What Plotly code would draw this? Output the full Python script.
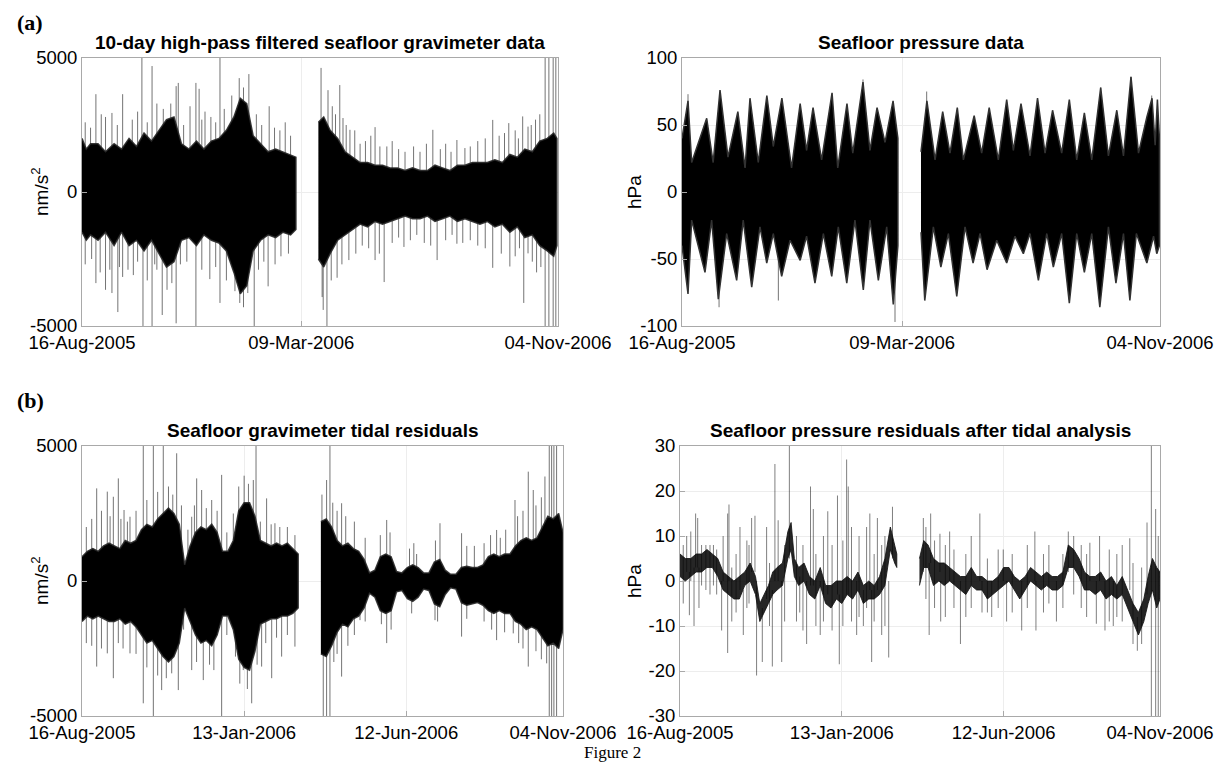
import pandas as pd
import plotly.graph_objects as go

# ---------------------------------------------------------------
# Time base: all sample positions are given in days since 16-Aug-2005
# ---------------------------------------------------------------
START = pd.Timestamp("2005-08-16")

tick_dates_a = ["2005-08-16", "2006-03-09", "2006-11-04"]
tick_text_a = ["16-Aug-2005", "09-Mar-2006", "04-Nov-2006"]
tick_dates_b = ["2005-08-16", "2006-01-13", "2006-06-12", "2006-11-04"]
tick_text_b = ["16-Aug-2005", "13-Jan-2006", "12-Jun-2006", "04-Nov-2006"]

# ---------------- (a) left: 10-day high-pass gravimeter (nm/s^2) ----------------
grav_hp_days = [0, 4, 8, 15, 22, 30, 37, 44, 51, 58, 65, 72, 79, 86, 93, 100, 107, 114, 121, 128,
                135, 142, 148, 154, 160, 167, 174, 181, 188, 195, 200,
                221, 226, 232, 239, 246, 253, 260, 267, 274, 281, 288, 295, 302, 309, 316, 323, 330,
                337, 344, 351, 358, 365, 372, 379, 386, 393, 400, 407, 414, 421, 428, 435, 441, 444]
grav_hp_hi = [2000, 1600, 1800, 1800, 1500, 1800, 1600, 2000, 1700, 2200, 1900, 2300, 2700, 2800, 1800,
              1600, 1900, 1600, 1900, 2000, 2300, 2800, 3500, 3300, 2100, 1800, 1500, 1600, 1500, 1400, 1300,
              2600, 2800, 2300, 2000, 1500, 1300, 1100, 1100, 1000, 1000, 900, 900, 800, 900, 800, 800, 1000,
              900, 800, 1000, 1000, 1100, 1100, 1100, 1200, 1100, 1400, 1300, 1600, 1500, 1900, 2000, 2200, 2000]
grav_hp_lo = [-1500, -1800, -1600, -1800, -1500, -2000, -1500, -2000, -1800, -2200, -1800, -2300, -2800, -2600,
              -1800, -1700, -2000, -1600, -1800, -1900, -2200, -3000, -3800, -3500, -2200, -1800, -1600, -1700,
              -1500, -1600, -1400,
              -2500, -2800, -2300, -1800, -1600, -1400, -1200, -1300, -1100, -1200, -1100, -1000, -900, -1000,
              -1000, -900, -1100, -1000, -900, -1100, -1000, -1100, -1200, -1100, -1300, -1200, -1500, -1300,
              -1700, -1600, -2000, -2200, -2400, -2000]
grav_hp_up_days = [13, 22, 28, 38, 56, 65.5, 70, 88, 90, 101, 106.5, 109.5, 115, 120.5, 129, 147, 156, 175, 190,
                   223.5, 230, 241, 244, 250.5, 260, 274, 278.5, 302, 328, 350.5, 358, 384, 399, 412, 417,
                   433, 436.5, 440.5, 443,
                   3, 8, 18, 33, 47, 52, 61, 76, 83, 95, 112, 125, 133, 140, 151, 163, 168, 180, 185, 195,
                   234, 237, 247, 255, 265, 270, 285, 290, 296, 310, 316, 322, 335, 340, 345, 363, 370, 377,
                   390, 395, 405, 408, 420, 424, 428]
grav_hp_up = [3650, 2800, 2950, 3650, 5000, 4700, 3300, 3950, 4070, 3200, 4070, 3850, 3000, 2800, 5000, 4250,
              4400, 3200, 2600,
              4630, 3800, 3990, 2760, 2320, 1800, 2420, 1700, 1500, 2320, 1940, 1640, 2690, 2570, 2820, 2440,
              5000, 5000, 5000, 5000,
              2600, 2400, 2900, 2500, 2700, 3000, 2600, 3100, 3300, 2500, 2700, 2600, 3100, 3600, 3900, 2900,
              2500, 2400, 2300, 2100,
              3200, 2900, 2500, 2300, 1900, 2100, 1700, 1900, 1600, 1700, 1500, 1800, 1600, 1800, 1500, 1700,
              1900, 2000, 2100, 2200, 2300, 2000, 2500, 2700, 2900]
grav_hp_dn_days = [13, 22, 28, 33.5, 38, 43, 57, 65.5, 70, 75, 79.5, 88, 106.5, 119.5, 129, 147.5, 155, 161, 174,
                   180.5,
                   224.5, 225.5, 229, 238.5, 249.5, 274, 282.5, 301, 332, 350.5, 384, 400, 413, 417, 433, 436.5,
                   440.5, 443,
                   3, 9, 17, 26, 35, 48, 52, 61, 68, 84, 92, 98, 112, 125, 135, 143, 151, 165, 170, 186, 193,
                   233, 243, 256, 262, 268, 278, 290, 296, 307, 313, 320, 326, 340, 346, 356, 363, 370, 377,
                   392, 405, 409, 421, 425, 429]
grav_hp_dn = [-3400, -3650, -3770, -4480, -3170, -2900, -5000, -5000, -2900, -4590, -3650, -4900, -5000, -3250,
              -4140, -4140, -3770, -5000, -3520, -2700,
              -3920, -4400, -5000, -3200, -2540, -2540, -3360, -2050, -2540, -1930, -2830, -2780, -4140, -2290,
              -5000, -5000, -5000, -5000,
              -2700, -2500, -3000, -2900, -2800, -3100, -2600, -3300, -2700, -3400, -2700, -2600, -2900, -2800,
              -3300, -3700, -4300, -2900, -2600, -2400, -2300,
              -3300, -2700, -2300, -2000, -2100, -2300, -1900, -1700, -1800, -1600, -1900, -2000, -1800, -1600,
              -1900, -1800, -2000, -2100, -2300, -2400, -2100, -2600, -3000, -2800]

# ---------------- (a) right: seafloor pressure (hPa) ----------------
pres_up_days = [0, 5.6, 9, 23, 29, 35.4, 42.8, 52, 58.7, 63.3, 71, 79, 85, 93, 102, 110, 116, 122, 130, 139.7,
                145, 153.6, 159, 168.5, 175, 181.6, 189, 196.5, 201,
                222.5, 228, 235.6, 242.7, 249.5, 256.3, 262, 272, 279, 286, 294.5, 302.3, 308.5, 315.6, 324, 331,
                338, 345, 353.5, 360.6, 367.5, 374.6, 381.5, 389.8, 397, 404.8, 411, 418, 425, 432.8, 437.6,
                440.5, 442.6, 444.5]
pres_up = [40, 68, 22, 55, 22, 76, 26, 60, 18, 70, 22, 72, 34, 70, 18, 66, 31, 63, 24, 74, 18, 66, 29, 82, 31,
           63, 37, 68, 40,
           30, 68, 24, 60, 29, 63, 24, 57, 29, 63, 24, 69, 31, 66, 27, 70, 29, 61, 29, 69, 24, 59, 24, 78, 27,
           61, 27, 86, 29, 56, 70, 35, 69, 40]
pres_lo_days = [0, 5.6, 9, 21.4, 27.6, 33.8, 41.6, 50.9, 57, 64.9, 72.6, 78.9, 85, 92.8, 100.6, 110, 116, 123.8,
                131.6, 139.4, 145.5, 153.4, 161, 168.8, 175, 182.8, 190.6, 196.7, 201,
                222.5, 226, 234, 241, 248, 255.8, 263.5, 271, 277.5, 284, 293, 302.3, 310, 317.8, 324, 331.8,
                339.6, 345.7, 353.5, 360.6, 367.5, 374.6, 381.5, 389, 397, 404, 411, 417, 423, 432.8, 439, 442,
                444.5]
pres_lo = [-40, -76, -21, -60, -21, -80, -31, -66, -21, -71, -26, -53, -31, -63, -36, -51, -33, -68, -31, -63,
           -26, -68, -21, -73, -21, -66, -26, -84, -40,
           -30, -81, -26, -56, -31, -78, -26, -53, -31, -58, -36, -53, -33, -46, -31, -66, -31, -56, -31, -83,
           -31, -60, -31, -86, -26, -68, -31, -81, -31, -53, -33, -46, -40]
pres_spk_days = [5.6, 34.5, 89.7, 168.5, 198.3, 227.8, 389.8, 418, 437.3]
pres_spk = [73, -86, -81, 84, -97, 75, 78, 86, 72]

# ---------------- (b) left: gravimeter tidal residuals (nm/s^2) ----------------
gtr_days = list(range(0, 201, 5)) + list(range(221, 442, 5)) + [445]
gtr_hi = [900, 1100, 1200, 1100, 1300, 1400, 1300, 1200, 1500, 1400, 1500, 1900, 2100, 2000, 2300, 2500, 2700,
          2500, 2100, 600, 1300, 1800, 2000, 1900, 2100, 1800, 1100, 1100, 1500, 2600, 2900, 2900, 2400, 1500,
          1400, 1300, 1400, 1300, 1400, 1200, 1000,
          2200, 2300, 2000, 1500, 1300, 1400, 1200, 1100, 800, 300, 400, 900, 1000, 900, 350, 300, 500, 600,
          500, 300, 300, 700, 800, 400, 250, 250, 500, 550, 500, 500, 600, 900, 1000, 900, 1000, 1000, 1300,
          1500, 1600, 1500, 1600, 2000, 2400, 2300, 2500, 1800]
gtr_lo = [-1500, -1300, -1400, -1300, -1400, -1500, -1500, -1400, -1600, -1500, -1700, -2000, -2300, -2200,
          -2500, -2800, -3000, -2800, -2300, -1000, -1500, -2000, -2300, -2200, -2400, -2000, -1300, -1300,
          -1800, -2900, -3200, -3300, -2600, -1600, -1500, -1400, -1400, -1300, -1300, -1200, -1000,
          -2700, -2800, -2400, -1900, -1600, -1700, -1400, -1300, -1000, -450, -600, -1100, -1200, -1100, -400,
          -350, -650, -750, -600, -300, -350, -850, -950, -500, -250, -300, -800, -900, -850, -800, -900, -1100,
          -1200, -1100, -1200, -1200, -1500, -1600, -1800, -1700, -1800, -2100, -2400, -2300, -2500, -1800]
gtr_up_days = [13.6, 23.4, 29, 33.6, 38.9, 44.4, 56.7, 66, 75.2, 87.6, 101.5, 106.1, 110.7, 129.2, 158.5, 161,
               170.8, 178.5, 197,
               226.3, 229.4, 240.2, 281.9, 309.6, 331.2, 351.2, 383.6, 400.6, 412.9, 417.5, 428.3, 432.3, 434.5,
               436.6, 439.1,
               4, 9, 18, 26, 36, 42, 50, 60, 70, 80, 84, 92, 98, 104, 115, 120, 125, 134, 140, 145, 150, 154,
               165, 175, 183, 190,
               222, 232, 236, 244, 252, 262, 276, 285, 303, 307, 327, 356, 363, 372, 378, 387, 392, 403, 408,
               420, 425]
gtr_up = [3430, 3310, 3120, 3800, 2630, 2380, 5000, 5000, 5000, 4730, 2380, 3800, 3370, 3930, 3740, 5000, 3060,
          2140, 1700,
          3740, 5000, 2880, 2260, 1000, 2140, 1770, 1890, 3000, 4050, 3370, 3870, 5000, 5000, 5000, 5000,
          2000, 2300, 2600, 2400, 2300, 2200, 2600, 3000, 3300, 3500, 3200, 2800, 1900, 2800, 2700, 3000, 2600,
          1800, 2500, 3500, 3900, 3600, 2200, 2100, 2000, 2000,
          3200, 2900, 2600, 2400, 2200, 1600, 1700, 1800, 1200, 1400, 1500, 1300, 1300, 1400, 1700, 1600, 1900,
          2400, 2600, 2800, 3100]
gtr_dn_days = [13.6, 23.4, 29, 33.6, 44.4, 56.7, 66, 73.7, 83, 89.1, 101.5, 112.2, 129.2, 149.2, 157, 166.2,
               175.5, 184.7, 197,
               223.2, 226.3, 229.4, 240.2, 257.2, 281.9, 326.6, 351.2, 383.6, 399, 412.9, 429.9, 432.3, 434.5,
               436.6, 439.1,
               4, 9, 18, 38, 50, 60, 70, 78, 94, 106, 118, 122, 134, 142, 146, 153, 162, 170, 180, 190,
               233, 236, 246, 252, 262, 277, 286, 305, 329, 356, 372, 379, 391, 404, 408, 420, 425]
gtr_dn = [-3170, -2680, -3600, -2300, -2680, -4530, -5000, -4040, -3420, -4040, -3300, -3670, -5000, -3300,
          -4530, -3170, -3600, -2800, -2430,
          -5000, -5000, -5000, -3540, -1450, -2300, -1450, -2060, -2190, -1940, -3170, -3050, -5000, -5000,
          -5000, -5000,
          -2300, -2400, -2500, -2500, -2700, -3200, -3500, -3600, -1800, -3000, -3100, -3300, -2000, -2800,
          -3800, -4000, -3100, -2300, -2100, -2000,
          -3000, -2700, -2400, -2000, -1500, -1600, -1800, -1200, -1500, -1400, -1500, -1800, -1900, -2300,
          -2500, -2600, -2900]

# ---------------- (b) right: pressure residuals after tidal analysis (hPa) ----------------
pr_days = [0, 5, 10, 15, 20, 25, 30, 35, 40, 45, 50, 55, 60, 65, 70, 74, 78, 82, 86, 90, 95, 100, 103, 106, 110,
           115, 120, 125, 130, 135, 140, 145, 150, 155, 160, 165, 170, 175, 180, 185, 190, 195, 199, 201,
           222, 226, 230, 235, 240, 245, 250, 255, 260, 265, 270, 275, 280, 285, 290, 295, 300, 305, 310, 315,
           320, 325, 330, 335, 340, 345, 350, 355, 360, 365, 370, 375, 380, 385, 390, 395, 400, 405, 410, 415,
           420, 425, 430, 434, 438, 442, 445]
pr_lo = [1, 0, 1, 2, 2, 3, 3, 1, -2, -3, -4, -4, -1, 0, -3, -9, -7, -5, -3, -2, -1, 5, 7, 1, -1,
         0, -3, -4, -1, -5, -6, -4, -5, -3, -4, -2, -5, -4, -4, -3, -1, 7, 4, 3,
         -1, 3, 3, -1, 0, -1, 0, -1, -2, -3, -1, -2, -2, -4, -3, -2, -1, 0, -2, -4, -2, 0, -1, -2, -1, -2,
         -2, -1, 3, 3, 1, -2, -2, -3, -2, -4, -3, -4, -3, -6, -9, -12, -9, -5, -2, -6, -4]
pr_hi = [6, 5, 5, 6, 6, 7, 6, 5, 2, 1, 0, 1, 2, 4, 1, -5, -3, -1, 2, 3, 4, 11, 13, 5, 3,
         4, 1, 0, 3, -1, -1, 0, 0, 1, 0, 2, -1, 0, -1, 1, 5, 12, 8, 6,
         5, 9, 8, 5, 4, 4, 3, 2, 1, 1, 3, 1, 1, 0, 0, 1, 3, 3, 1, 0, 1, 3, 2, 1, 2, 1, 1, 2, 8, 7, 5, 2, 1,
         1, 2, 0, 1, -1, 1, -2, -5, -7, -4, 1, 5, 3, 2]
pr_spk_days = [6.2, 8.7, 13, 14.5, 16.4, 17.6, 27.8, 38.6, 40, 44.2, 45.4, 55.6, 58.7, 66.4, 69.5, 71, 76.3,
               80.3, 85.6, 88, 91, 94.3, 101.4, 111, 117.4, 121, 123.6, 130, 137, 146, 147.7, 154.5, 156, 163.8,
               170, 176, 177.7, 183, 193.5, 197,
               225.6, 231, 232.4, 241, 241.7, 250, 260, 278, 280, 289, 299.7, 302.8, 316.8, 329, 330, 349, 360,
               380, 386, 389, 394, 401.7, 417, 424, 433, 437, 441, 443.4,
               3, 10, 20, 24, 31, 34, 48, 52, 62, 64, 83, 97, 108, 114, 126, 133, 141, 151, 159, 166, 173, 180,
               187, 190,
               228, 236, 246, 254, 265, 270, 285, 295, 308, 322, 337, 342, 355, 365, 372, 377, 398, 405, 410,
               420, 428]
pr_spk_lo = [2, -7.6, -10, 3, 3, -6, -3, -11, 0, -16, 0, -2, -12, 2, 2, -21, -18, -4, -19, 0, 0, -18, 5, -7, -14,
             -1, -1, -12, -3, -3, -18.5, -3, -3, -12, -10, -2, -18, -2, -17, 5,
             2, -12, 4, 2, -9, 0, -14, 0, -7, -8, 0, -9, -11, 0, -11, -9, 2, 0, -9.5, 0, -11, -10, -2, -15.5, -3,
             -30, -30, -30,
             -5, 0, -1, -2, -1, -3, -9, -7, -6, -5, -10, -9, -9, -11, -10, -9, -11, -10, -9, -8, -6, -9, -12, -10,
             -4, -6, -8, -6, -8, -6, -7, -6, -7, -6, -7, -5, -6, -3, -6, -8, -9, -8, -9, -14, -14]
pr_spk_hi = [10, 2, 3, 15, 14, 3, 8, 0, 10, 15, 17, 12, -2, 14, 14.5, 0, -6, 12, -2, 26, 13.5, 0, 30, 1, 0,
             21, 16, 0, 15.5, 19, -3, 27, 21, 0, -2, 15, -2, 14, 0, 16.5,
             14, 4, 15, 10.5, 0, 11, 0, 15, 0, 0, 7, 0, 0, 11, 0, 0, 11, 8.5, 0, 10, 0, 0, 9.5, -8, 13,
             30, 16, 10,
             8, 11, 8, 8, 8, 7, 3, 6, 9, 8, 4, 8, 10, 8, 6, 10, 8, 9, 12, 10, 12, 6, 8, 10,
             12, 9, 8, 7, 6, 10, 5, 7, 6, 8, 6, 8, 6, 10, 8, 6, 7, 6, 8, 4, 3]


# ---------------------------------------------------------------
def to_time(days):
    return [None if d is None else (START + pd.Timedelta(days=float(d))).strftime("%Y-%m-%d %H:%M:%S")
            for d in days]


def split_segments(days, gap=18):
    segs, cur = [], [0]
    for i in range(1, len(days)):
        if days[i] - days[i - 1] > gap:
            segs.append(cur)
            cur = [i]
        else:
            cur.append(i)
    segs.append(cur)
    return segs


def band(days, lo, hi):
    xs, ys = [], []
    for seg in split_segments(days):
        d = [days[i] for i in seg]
        xs += d + d[::-1] + [None]
        ys += [hi[i] for i in seg] + [lo[i] for i in seg][::-1] + [None]
    return to_time(xs), ys


def band2(up_days, up, lo_days, lo):
    xs, ys = [], []
    su, sl = split_segments(up_days), split_segments(lo_days)
    for a, b in zip(su, sl):
        xs += [up_days[i] for i in a] + [lo_days[i] for i in b][::-1] + [None]
        ys += [up[i] for i in a] + [lo[i] for i in b][::-1] + [None]
    return to_time(xs), ys


def spikes(days, base, vals):
    xs, ys = [], []
    for i, d in enumerate(days):
        b = base[i] if isinstance(base, list) else base
        xs += [d, d, None]
        ys += [b, vals[i], None]
    return to_time(xs), ys


fig = go.Figure()
CORE = "black"
SPK = "rgba(0,0,0,0.55)"


def add_band(x, y, ax, edge="rgba(0,0,0,0.8)", fill=CORE, width=0.8):
    fig.add_trace(go.Scatter(x=x, y=y, mode="lines", fill="toself", fillcolor=fill,
                             line=dict(color=edge, width=width), xaxis="x" + ax, yaxis="y" + ax,
                             hoverinfo="skip", showlegend=False))


def add_spk(x, y, ax, color=SPK):
    fig.add_trace(go.Scatter(x=x, y=y, mode="lines", line=dict(color=color, width=1),
                             xaxis="x" + ax, yaxis="y" + ax, hoverinfo="skip", showlegend=False))


# (a) left
add_spk(*spikes(grav_hp_up_days, 0, grav_hp_up), "")
add_spk(*spikes(grav_hp_dn_days, 0, grav_hp_dn), "")
add_band(*band(grav_hp_days, grav_hp_lo, grav_hp_hi), "", edge="rgba(40,40,40,0.9)", width=1.5)
# (a) right
add_spk(*spikes(pres_spk_days, 0, pres_spk), "2")
add_band(*band2(pres_up_days, pres_up, pres_lo_days, pres_lo), "2", edge="rgba(50,50,50,1)", width=1.5)
# (b) left
add_spk(*spikes(gtr_up_days, 0, gtr_up), "3")
add_spk(*spikes(gtr_dn_days, 0, gtr_dn), "3")
add_band(*band(gtr_days, gtr_lo, gtr_hi), "3", edge="rgba(40,40,40,0.9)", width=1.5)
# (b) right
add_spk(*spikes(pr_spk_days, pr_spk_lo, pr_spk_hi), "4", color="rgba(0,0,0,0.5)")
add_band(*band(pr_days, pr_lo, pr_hi), "4", edge="rgba(20,20,20,0.85)", fill="rgba(0,0,0,0.85)", width=1)

# The page body adds an 8 px margin at top-left; lay the figure out in window pixels.
OFF = 8
W, H = 1226 - OFF, 765 - OFF


def px(v):
    return (v - OFF) / W


def py(v):
    return 1 - (v - OFF) / H


AXC = "#a9a9a9"
GRID = "#ededed"
TICKFONT = dict(family="Liberation Sans, Arial, sans-serif", size=18.5, color="black")
XR = ["2005-08-16 00:00:00", "2006-11-04 00:30:00"]


def xcfg(x0, x1, anchor, tv, tt):
    return dict(domain=[px(x0), px(x1)], anchor=anchor, type="date", range=XR, tickvals=tv, ticktext=tt,
                showgrid=True, gridcolor=GRID, showline=True, linecolor=AXC, mirror=True, ticks="inside",
                ticklen=5, tickcolor=AXC, zeroline=False, tickfont=TICKFONT, fixedrange=True,
                automargin=False)


def ycfg(y0, y1, anchor, rng, tv):
    return dict(domain=[py(y1), py(y0)], anchor=anchor, range=rng, tickvals=tv,
                ticktext=[str(v) for v in tv], showgrid=True, gridcolor=GRID, showline=True, linecolor=AXC,
                mirror=True, ticks="inside", ticklen=5, tickcolor=AXC, zeroline=False, tickfont=TICKFONT,
                fixedrange=True, automargin=False)


TA, TB = 58, 326
TB2, BB2 = 446, 716

fig.update_layout(
    width=W, height=H, autosize=False, margin=dict(l=0, r=0, t=0, b=0, pad=0, autoexpand=False),
    paper_bgcolor="white", plot_bgcolor="white", showlegend=False,
    xaxis=xcfg(82, 558, "y", tick_dates_a, tick_text_a),
    yaxis=ycfg(TA, TB, "x", [-5000, 5000], [-5000, 0, 5000]),
    xaxis2=xcfg(682, 1160, "y2", tick_dates_a, tick_text_a),
    yaxis2=ycfg(TA, TB, "x2", [-100, 100], [-100, -50, 0, 50, 100]),
    xaxis3=xcfg(82, 563, "y3", tick_dates_b, tick_text_b),
    yaxis3=ycfg(TB2, BB2, "x3", [-5000, 5000], [-5000, 0, 5000]),
    xaxis4=xcfg(680, 1160, "y4", tick_dates_b, tick_text_b),
    yaxis4=ycfg(TB2, BB2, "x4", [-30, 30], [-30, -20, -10, 0, 10, 20, 30]),
)

TFONT = dict(family="Liberation Sans, Arial, sans-serif", size=19, color="black")
annos = [
    dict(text="<b>10-day high-pass filtered seafloor gravimeter data</b>", x=px(320), y=py(TA - 3),
         yanchor="bottom"),
    dict(text="<b>Seafloor pressure data</b>", x=px(921), y=py(TA - 3), yanchor="bottom"),
    dict(text="<b>Seafloor gravimeter tidal residuals</b>", x=px(322.5), y=py(TB2 - 3), yanchor="bottom"),
    dict(text="<b>Seafloor pressure residuals after tidal analysis</b>", x=px(920), y=py(TB2 - 3),
         yanchor="bottom"),
    dict(text="nm/s<sup>2</sup>", x=px(40), y=py((TA + TB) / 2), textangle=-90, yanchor="middle"),
    dict(text="hPa", x=px(634), y=py((TA + TB) / 2), textangle=-90, yanchor="middle"),
    dict(text="nm/s<sup>2</sup>", x=px(40), y=py((TB2 + BB2) / 2), textangle=-90, yanchor="middle"),
    dict(text="hPa", x=px(634), y=py((TB2 + BB2) / 2), textangle=-90, yanchor="middle"),
]
for a in annos:
    a.update(xref="paper", yref="paper", showarrow=False, font=TFONT, xanchor="center")
    fig.add_annotation(**a)

SERIF = "Liberation Serif, Times New Roman, serif"
fig.add_annotation(text="<b>(a)</b>", x=px(30), y=py(OFF + 1), xref="paper", yref="paper", showarrow=False,
                   font=dict(family=SERIF, size=22, color="black"), xanchor="center", yanchor="top",
                   borderpad=0)
fig.add_annotation(text="<b>(b)</b>", x=px(30), y=py(400), xref="paper", yref="paper", showarrow=False,
                   font=dict(family=SERIF, size=22, color="black"), xanchor="center", yanchor="middle")
fig.add_annotation(text="Figure 2", x=px(612), y=py(752), xref="paper", yref="paper", showarrow=False,
                   font=dict(family=SERIF, size=17, color="black"), xanchor="center", yanchor="middle")

fig.write_html("out.html")
